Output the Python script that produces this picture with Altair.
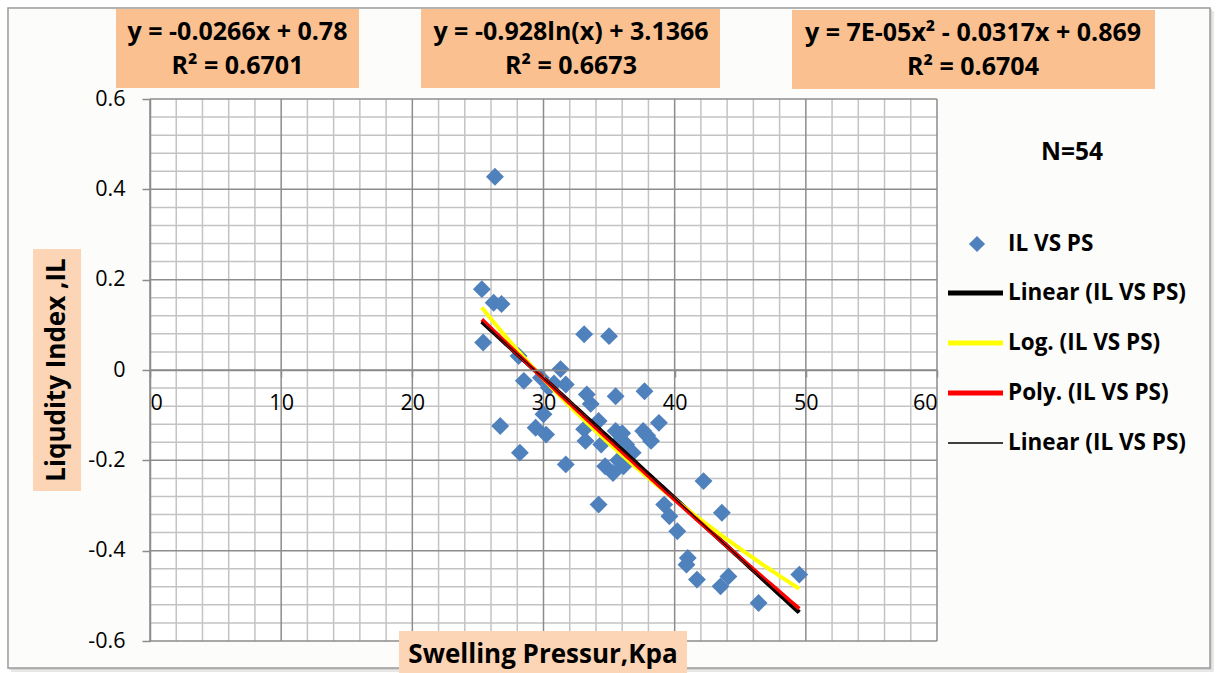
import altair as alt
import numpy as np
import pandas as pd

# Swelling pressure (kPa) and liquidity index of the 54 samples
swelling_pressure = [
    25.3, 26.2, 26.8, 25.4, 26.3, 33.1, 35.0, 28.1, 31.3, 28.5,
    29.8, 30.4, 31.7, 33.3, 35.5, 37.7, 30.0, 29.4, 30.2, 26.7,
    28.2, 31.7, 33.1, 33.2, 34.2, 35.5, 35.9, 36.3, 36.8, 34.4,
    37.6, 38.2, 38.8, 34.7, 35.3, 36.1, 34.2, 39.2, 42.2, 39.6,
    43.6, 40.2, 41.0, 40.9, 41.7, 44.1, 43.5, 46.4, 49.5, 35.7,
    37.9, 33.6, 30.8, 36.0,
]
liquidity_index = [
    0.179, 0.149, 0.146, 0.061, 0.428, 0.079, 0.075, 0.031, 0.002, -0.024,
    -0.017, -0.039, -0.032, -0.054, -0.058, -0.047, -0.098, -0.128, -0.143, -0.124,
    -0.183, -0.209, -0.131, -0.157, -0.113, -0.135, -0.154, -0.165, -0.183, -0.165,
    -0.135, -0.157, -0.117, -0.213, -0.228, -0.213, -0.298, -0.298, -0.246, -0.324,
    -0.316, -0.357, -0.416, -0.431, -0.464, -0.457, -0.479, -0.516, -0.453, -0.200,
    -0.145, -0.075, -0.030, -0.140,
]

# Fitted trend lines (coefficients as printed on the chart)
lin_slope, lin_icpt = -0.0266, 0.78
log_coef, log_icpt = -0.928, 3.1366
poly_a, poly_b, poly_c = 7e-05, -0.0317, 0.869

eq_linear = ["y = -0.0266x + 0.78", "R² = 0.6701"]
eq_log = ["y = -0.928ln(x) + 3.1366", "R² = 0.6673"]
eq_poly = ["y = 7E-05x² - 0.0317x + 0.869", "R² = 0.6704"]

x_ticks = [0, 10, 20, 30, 40, 50, 60]
y_ticks = [-0.6, -0.4, -0.2, 0, 0.2, 0.4, 0.6]
x_minor = [v for v in range(0, 61, 2) if v % 10 != 0]
y_minor = [round(-0.6 + 0.04 * i, 2) for i in range(31) if i % 5 != 0]

series_name = "IL VS PS"
legend_labels = ["IL VS PS", "Linear (IL VS PS)", "Log. (IL VS PS)",
                 "Poly. (IL VS PS)", "Linear (IL VS PS)"]

W, H = 787, 542
FONT = "Open Sans"
BLUE = "#4F81BD"
MAJOR = "#8C8C8C"
MINOR = "#C3C3C3"
TICK_FS = 21.5

xscale = alt.Scale(domain=[0, 60], nice=False, zero=False)
yscale = alt.Scale(domain=[-0.6, 0.6], nice=False, zero=False)

X = alt.X("x:Q", scale=xscale, axis=alt.Axis(
    values=x_ticks, title=None, orient="bottom", offset=-H / 2, grid=False,
    domainColor=MAJOR, domainWidth=1.5, tickColor=MAJOR, tickSize=7,
    tickWidth=1.5, labelPadding=15, labelFontSize=TICK_FS, labelFont=FONT,
    labelColor="black", zindex=1))
Y = alt.Y("y:Q", scale=yscale, axis=alt.Axis(
    values=y_ticks, title=None, grid=False, domainColor=MAJOR, domainWidth=1.5,
    tickColor=MAJOR, tickSize=8, tickWidth=1.5, labelPadding=17,
    labelFontSize=TICK_FS, labelFont=FONT, labelColor="black", zindex=1,
    labelExpr="datum.value == 0 ? '0' : (datum.value < 0 ? '-' + format(-datum.value, '.1f') : format(datum.value, '.1f'))"))

one = pd.DataFrame({"k": [0]})


def rect(x1, x2, y1, y2, fill, stroke=None, sw=0, opacity=1):
    kw = dict(fill=fill, opacity=opacity)
    if stroke:
        kw.update(stroke=stroke, strokeWidth=sw)
    return alt.Chart(one).mark_rect(**kw).encode(
        x=alt.value(x1), x2=alt.value(x2), y=alt.value(y1), y2=alt.value(y2))


def label(text, x, y, size, angle=0, align="center", bold=True):
    kw = dict(text=text, font=FONT, fontSize=size, align=align,
              baseline="middle", color="black",
              fontWeight="bold" if bold else "normal")
    if angle:
        kw["angle"] = angle
    return alt.Chart(one).mark_text(**kw).encode(x=alt.value(x), y=alt.value(y))


def seg(x1, x2, y, color, width):
    return alt.Chart(one).mark_rule(color=color, strokeWidth=width).encode(
        x=alt.value(x1), x2=alt.value(x2), y=alt.value(y))


# chart frame with a soft drop shadow
frame = [
    rect(-139, 1064, -88, 573, "#D9D9D9", opacity=0.6),
    rect(-141, 1062, -90, 571, "#C8C8C8", opacity=0.6),
    rect(-142, 1060, -91, 569, "#FCFCFA", stroke="#9A9A9A", sw=1.5),
    rect(0, W, 0, H, "white"),
]

vgrid_minor = alt.Chart(pd.DataFrame({"x": x_minor})).mark_rule(
    color=MINOR, strokeWidth=1.5).encode(x=X)
hgrid_minor = alt.Chart(pd.DataFrame({"y": y_minor})).mark_rule(
    color=MINOR, strokeWidth=1.5).encode(y=Y)
vgrid_major = alt.Chart(pd.DataFrame({"x": x_ticks})).mark_rule(
    color=MAJOR, strokeWidth=1.5).encode(x=X)
hgrid_major = alt.Chart(pd.DataFrame({"y": y_ticks})).mark_rule(
    color=MAJOR, strokeWidth=1.5).encode(y=Y)

points = alt.Chart(pd.DataFrame({
    "x": swelling_pressure, "y": liquidity_index, "series": series_name
})).mark_point(shape="diamond", filled=True, size=320, color=BLUE,
               opacity=1).encode(x=X, y=Y)

tx = np.linspace(min(swelling_pressure), max(swelling_pressure), 80)
trend = pd.DataFrame({
    "x": tx,
    "lin": lin_slope * tx + lin_icpt,
    "log": log_coef * np.log(tx) + log_icpt,
    "poly": poly_a * tx ** 2 + poly_b * tx + poly_c,
})


def trend_line(col, color, width):
    return alt.Chart(trend).transform_calculate(y=f"datum.{col}").mark_line(
        color=color, strokeWidth=width).encode(x=X, y=Y)


trends = [
    trend_line("lin", "black", 4.5),
    trend_line("log", "#FFFF00", 4),
    trend_line("poly", "#FF0000", 4),
    trend_line("lin", "black", 1.2),
]

# equation boxes above the plot
PEACH = "#FAC090"
LIGHT = "#FBD5B5"
EQ = 25
boxes = [
    rect(-34, 209, -90, -11, PEACH),
    label(eq_linear[0], 87.5, -67, EQ),
    label(eq_linear[1], 87.5, -33, EQ),
    rect(271, 570, -90, -11, PEACH),
    label(eq_log[0], 421, -67, EQ),
    label(eq_log[1], 421, -33, EQ),
    rect(642, 1005, -89, -10, PEACH),
    label(eq_poly[0], 823, -66, EQ),
    label(eq_poly[1], 823, -32, EQ),
]

# axis titles
titles = [
    rect(-117, -69, 150, 392, LIGHT),
    label("Liqudity Index ,IL", -93, 271, 26, angle=270),
    rect(249, 537, 532, 574, LIGHT),
    label("Swelling Pressur,Kpa", 393, 556, 26),
]

# legend
lx = 858
LG = 22.5
legend = [
    label("N=54", 922, 54, 24.5),
    alt.Chart(one).mark_point(shape="diamond", filled=True, size=260,
                              color=BLUE, opacity=1).encode(
        x=alt.value(827), y=alt.value(145)),
    label(legend_labels[0], lx, 145, LG, align="left"),
    seg(798, 853, 194, "black", 5),
    label(legend_labels[1], lx, 194, LG, align="left"),
    seg(798, 853, 244, "#FFFF00", 5),
    label(legend_labels[2], lx, 244, LG, align="left"),
    seg(798, 853, 294, "#FF0000", 5),
    label(legend_labels[3], lx, 294, LG, align="left"),
    seg(798, 853, 344, "black", 1.5),
    label(legend_labels[4], lx, 344, LG, align="left"),
]

chart = alt.layer(
    *frame, vgrid_minor, hgrid_minor, vgrid_major, hgrid_major,
    points, *trends, *boxes, *titles, *legend,
).properties(
    width=W, height=H, autosize="none",
    padding={"left": 150, "top": 99, "right": 281, "bottom": 32},
    background="white",
).configure_view(stroke=None)

chart.save("out.html", embed_options={"renderer": "svg", "actions": False})
